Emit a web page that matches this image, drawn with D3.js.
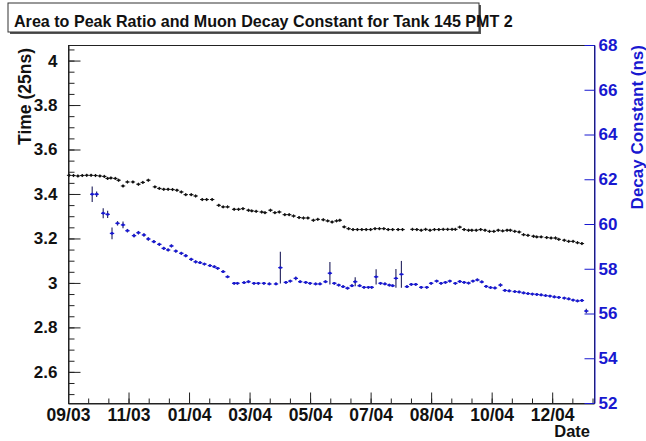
<!DOCTYPE html>
<html>
<head>
<meta charset="utf-8">
<script src="https://cdn.jsdelivr.net/npm/d3@7"></script>
<style>
  body { margin: 0; background: #fff; }
  svg { display: block; }
  text { font-family: "Liberation Sans", Arial, Helvetica, sans-serif; font-weight: bold; }
</style>
</head>
<body>
<svg id="chart" width="646" height="441"></svg>
<script>
// Area-to-peak ratio (left axis, units of 25 ns), day offsets from 2003-09 axis start
const ratioDays = [1,5,9,13,17,21,25,29,33,36,39,43,46,50,54,59,64,68,73,79,83,87,91,95,99,103,107,112,116,122,126,131,137,141,145,151,155,159,164,167,171,176,179,184,188,192,197,201,205,210,214,218,223,227,232,236,240,244,247,251,255,259,263,267,271,275,279,283,287,291,295,300,304,313,317,321,325,329,333,337,341,345,349,352,356,360,364,367,371,375,379,383,387,391,395,399,402,406,410,414,418,423,426,430,435,439,443,446,451,455,459,463,467];
const ratioValues = [3.484,3.483,3.481,3.483,3.484,3.484,3.483,3.481,3.479,3.470,3.472,3.470,3.462,3.436,3.454,3.454,3.444,3.452,3.462,3.432,3.425,3.421,3.421,3.420,3.417,3.409,3.397,3.397,3.391,3.375,3.375,3.375,3.349,3.342,3.342,3.331,3.331,3.334,3.327,3.324,3.322,3.319,3.316,3.327,3.316,3.319,3.307,3.307,3.301,3.294,3.292,3.292,3.282,3.286,3.284,3.279,3.274,3.279,3.282,3.252,3.244,3.240,3.240,3.240,3.240,3.240,3.244,3.244,3.244,3.240,3.240,3.240,3.240,3.241,3.240,3.237,3.241,3.237,3.240,3.240,3.241,3.241,3.241,3.241,3.251,3.240,3.237,3.237,3.237,3.240,3.237,3.232,3.232,3.237,3.234,3.237,3.237,3.232,3.229,3.217,3.214,3.210,3.207,3.207,3.204,3.202,3.202,3.196,3.192,3.187,3.187,3.181,3.177];

// Muon decay constant (right axis, ns) with its uncertainty
const decayDays = [22,26,32,36,40,45,50,54,60,64,69,73,78,83,87,91,94,98,103,107,112,116,120,124,129,133,136,141,145,151,154,160,164,169,173,178,183,189,193,198,202,207,211,216,220,225,229,234,238,242,246,250,254,258,261,265,269,273,276,280,284,288,292,295,298,303,308,312,316,321,326,330,335,339,343,347,352,356,360,364,368,372,376,380,384,388,393,397,401,406,410,414,418,422,426,430,434,438,442,446,451,455,459,463,467,471];
const decayValues = [61.33,61.33,60.48,60.43,59.58,60.03,59.96,59.70,59.48,59.61,59.51,59.33,59.21,59.09,58.91,58.84,59.02,58.79,58.69,58.58,58.42,58.31,58.27,58.21,58.14,58.09,58.02,57.87,57.64,57.35,57.35,57.38,57.42,57.35,57.35,57.35,57.32,57.32,58.05,57.39,57.45,57.57,57.42,57.39,57.35,57.32,57.32,57.42,57.80,57.35,57.27,57.20,57.13,57.24,57.42,57.24,57.17,57.17,57.17,57.64,57.35,57.32,57.27,57.24,57.57,57.75,57.20,57.30,57.30,57.17,57.17,57.35,57.45,57.35,57.39,57.45,57.35,57.43,57.39,57.36,57.45,57.50,57.41,57.21,57.16,57.14,57.27,57.03,57.01,56.98,56.96,56.92,56.89,56.87,56.85,56.83,56.80,56.78,56.74,56.72,56.69,56.65,56.60,56.56,56.58,56.11];
const decayErrors = [0.35,0.12,0.22,0.16,0.26,0.10,0.15,0.08,0.08,0.08,0.08,0.08,0.07,0.07,0.07,0.07,0.07,0.07,0.07,0.07,0.07,0.07,0.06,0.06,0.06,0.06,0.06,0.06,0.06,0.06,0.06,0.06,0.06,0.06,0.06,0.06,0.06,0.06,0.71,0.06,0.06,0.08,0.06,0.06,0.06,0.06,0.06,0.06,0.50,0.06,0.06,0.06,0.06,0.06,0.20,0.06,0.06,0.06,0.06,0.34,0.06,0.06,0.06,0.06,0.42,0.60,0.06,0.06,0.06,0.06,0.06,0.06,0.06,0.06,0.06,0.06,0.06,0.06,0.06,0.06,0.06,0.06,0.06,0.06,0.06,0.06,0.08,0.06,0.06,0.06,0.06,0.06,0.06,0.06,0.06,0.06,0.06,0.06,0.06,0.06,0.06,0.06,0.06,0.06,0.06,0.10];

// Axis ticks
const dateTickDays = [0,55,110,165,220,275,330,385,440];
const dateTickLabels = ["09/03","11/03","01/04","03/04","05/04","07/04","08/04","10/04","12/04"];
const ratioTicks = [2.6,2.8,3,3.2,3.4,3.6,3.8,4];
const decayTicks = [52,54,56,58,60,62,64,66,68];

const titleText = "Area to Peak Ratio and Muon Decay Constant for Tank 145 PMT 2";
const blue = "#1818d0";

const svg = d3.select("#chart");
const frame = { left: 68, right: 594, top: 45, bottom: 403 };

const x = d3.scaleLinear().domain([0, 478]).range([frame.left, frame.right]);
const yRatio = d3.scaleLinear().domain([2.46, 4.07]).range([frame.bottom, frame.top]);
const yDecay = d3.scaleLinear().domain([52, 68]).range([frame.bottom, frame.top]);

// Title box with drop shadow
const tb = { x: 8, y: 3, w: 471, h: 29 };
svg.append("rect").attr("x", tb.x + 2).attr("y", tb.y + 2).attr("width", tb.w).attr("height", tb.h).attr("fill", "#555");
svg.append("rect").attr("x", tb.x).attr("y", tb.y).attr("width", tb.w).attr("height", tb.h)
  .attr("fill", "#fff").attr("stroke", "#333").attr("stroke-width", 1);
svg.append("text").attr("x", 14).attr("y", 26.5).attr("font-size", 16.1).attr("fill", "#111").text(titleText);

// Frame
svg.append("rect").attr("x", frame.left + 0.5).attr("y", frame.top + 0.5)
  .attr("width", frame.right - frame.left).attr("height", frame.bottom - frame.top)
  .attr("fill", "none").attr("stroke", "#222").attr("stroke-width", 1);

// Left axis: ratio, major + minor ticks pointing inward
const minorRatio = d3.range(2.5, 4.0701, 0.05).map(v => +v.toFixed(2));
svg.append("g").attr("transform", `translate(${frame.left + 0.5},0)`)
  .call(d3.axisLeft(yRatio).tickValues(minorRatio).tickSizeInner(-6).tickSizeOuter(0).tickFormat(""))
  .call(g => g.select(".domain").remove())
  .call(g => g.selectAll("line").attr("stroke", "#222"));
const leftAxis = svg.append("g").attr("transform", `translate(${frame.left + 0.5},0)`)
  .call(d3.axisLeft(yRatio).tickValues(ratioTicks).tickSizeInner(-12).tickSizeOuter(0).tickPadding(11)
    .tickFormat(d3.format("~g")));
leftAxis.select(".domain").attr("stroke", "#222");
leftAxis.selectAll("line").attr("stroke", "#222");
leftAxis.selectAll("text").attr("font-size", 17).attr("fill", "#111")
  .style("font-family", "'Liberation Sans', Arial, sans-serif").style("font-weight", "bold");

// Bottom axis: dates, major + minor ticks
const minorDays = d3.range(0, 478, 55 / 3);
svg.append("g").attr("transform", `translate(0,${frame.bottom + 0.5})`)
  .call(d3.axisBottom(x).tickValues(minorDays).tickSizeInner(-5).tickSizeOuter(0).tickFormat(""))
  .call(g => g.select(".domain").remove())
  .call(g => g.selectAll("line").attr("stroke", "#222"));
const bottomAxis = svg.append("g").attr("transform", `translate(0,${frame.bottom + 0.5})`)
  .call(d3.axisBottom(x).tickValues(dateTickDays).tickSizeInner(-11).tickSizeOuter(0).tickPadding(5)
    .tickFormat((d, i) => dateTickLabels[i]));
bottomAxis.select(".domain").attr("stroke", "#222");
bottomAxis.selectAll("line").attr("stroke", "#222");
bottomAxis.selectAll("text").attr("font-size", 17.5).attr("fill", "#111")
  .style("font-family", "'Liberation Sans', Arial, sans-serif").style("font-weight", "bold");

// Right axis: decay constant, blue
const rightAxis = svg.append("g").attr("transform", `translate(${frame.right + 0.5},0)`)
  .call(d3.axisRight(yDecay).tickValues(decayTicks).tickSizeInner(-10).tickSizeOuter(0).tickPadding(4));
rightAxis.select(".domain").attr("stroke", blue);
rightAxis.selectAll("line").attr("stroke", blue);
rightAxis.selectAll("text").attr("font-size", 17).attr("fill", blue)
  .style("font-family", "'Liberation Sans', Arial, sans-serif").style("font-weight", "bold");

// Axis titles
svg.append("text").attr("transform", `translate(31,48) rotate(-90)`)
  .attr("text-anchor", "end").attr("font-size", 17.5).attr("fill", "#111").text("Time (25ns)");
svg.append("text").attr("transform", `translate(643,45) rotate(-90)`)
  .attr("text-anchor", "end").attr("font-size", 17).attr("fill", blue).text("Decay Constant (ns)");
svg.append("text").attr("x", 590).attr("y", 437).attr("text-anchor", "end")
  .attr("font-size", 16.5).attr("fill", "#111").text("Date");

// Ratio points with small error crosses
const ratioData = ratioDays.map((d, i) => ({ d, v: ratioValues[i] }));
const gR = svg.append("g");
gR.selectAll("line.h").data(ratioData).join("line").attr("class", "h")
  .attr("x1", p => x(p.d - 2)).attr("x2", p => x(p.d + 2))
  .attr("y1", p => yRatio(p.v)).attr("y2", p => yRatio(p.v))
  .attr("stroke", "#111").attr("stroke-width", 1);
gR.selectAll("line.v").data(ratioData).join("line").attr("class", "v")
  .attr("x1", p => x(p.d)).attr("x2", p => x(p.d))
  .attr("y1", p => yRatio(p.v + 0.007)).attr("y2", p => yRatio(p.v - 0.007))
  .attr("stroke", "#111").attr("stroke-width", 1);
gR.selectAll("circle").data(ratioData).join("circle")
  .attr("cx", p => x(p.d)).attr("cy", p => yRatio(p.v)).attr("r", 1.2).attr("fill", "#111");

// Decay constant points with error bars
const decayData = decayDays.map((d, i) => ({ d, v: decayValues[i], e: decayErrors[i] }));
const gD = svg.append("g");
gD.selectAll("line.v").data(decayData).join("line").attr("class", "v")
  .attr("x1", p => x(p.d)).attr("x2", p => x(p.d))
  .attr("y1", p => yDecay(p.v + p.e)).attr("y2", p => yDecay(p.v - p.e))
  .attr("stroke", "#303068").attr("stroke-width", 1.2);
gD.selectAll("line.h").data(decayData).join("line").attr("class", "h")
  .attr("x1", p => x(p.d - 2)).attr("x2", p => x(p.d + 2))
  .attr("y1", p => yDecay(p.v)).attr("y2", p => yDecay(p.v))
  .attr("stroke", blue).attr("stroke-width", 1.2);
gD.selectAll("circle").data(decayData).join("circle")
  .attr("cx", p => x(p.d)).attr("cy", p => yDecay(p.v)).attr("r", 1.4).attr("fill", blue);
</script>
</body>
</html>
